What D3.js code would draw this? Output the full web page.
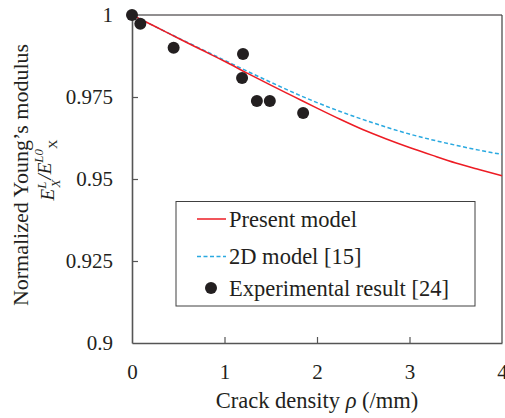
<!DOCTYPE html>
<html>
<head>
<meta charset="utf-8">
<script src="https://d3js.org/d3.v7.min.js"></script>
<style>
  body { margin: 0; background: #fff; }
  svg { font-family: "Liberation Serif", "Times New Roman", serif; }
  text { fill: #231f20; }
</style>
</head>
<body>
<svg id="chart" width="505" height="418"></svg>
<script>
// chart values
var rho = [0, 0.25, 0.5, 0.75, 1, 1.25, 1.5, 1.75, 2, 2.25, 2.5, 2.75, 3, 3.25, 3.5, 3.75, 4];
var presentModel = [1, 0.9965, 0.9929, 0.9894, 0.9859, 0.9822, 0.9786, 0.9751, 0.9716,
                    0.9682, 0.9650, 0.9622, 0.9596, 0.9572, 0.9549, 0.9529, 0.9510];
var model2D = [1, 0.9965, 0.9930, 0.9896, 0.9862, 0.9828, 0.9795, 0.9763, 0.9733,
               0.9706, 0.9681, 0.9658, 0.9637, 0.9619, 0.9603, 0.9588, 0.9575];
var expRho = [0, 0.09, 0.45, 1.2, 1.19, 1.35, 1.49, 1.85];
var expE   = [1, 0.9973, 0.9900, 0.9881, 0.9808, 0.9738, 0.9738, 0.9701];
var xTicks = [0, 1, 2, 3, 4];
var yTicks = [0.9, 0.925, 0.95, 0.975, 1];
var legendNames = ["Present model", "2D model [15]", "Experimental result [24]"];

var svg = d3.select("#chart");
var pLeft = 132, pRight = 502, pTop = 15, pBottom = 343;

var x = d3.scaleLinear().domain([0, 4]).range([pLeft, pRight]);
var y = d3.scaleLinear().domain([0.9, 1]).range([pBottom, pTop]);

// frame (top and right)
svg.append("line").attr("x1", pLeft).attr("x2", pRight).attr("y1", pTop).attr("y2", pTop)
  .attr("stroke", "#231f20").attr("stroke-width", 1);
svg.append("line").attr("x1", pRight).attr("x2", pRight).attr("y1", pTop).attr("y2", pBottom)
  .attr("stroke", "#404040").attr("stroke-width", 1.2);

// axes
var xAxis = d3.axisBottom(x).tickValues(xTicks).tickFormat(d3.format("d"))
  .tickSizeInner(-6).tickSizeOuter(0).tickPadding(20);
var yAxis = d3.axisLeft(y).tickValues(yTicks).tickFormat(function(d) { return d === 1 ? "1" : String(d); })
  .tickSizeInner(-6).tickSizeOuter(0).tickPadding(19);

var gx = svg.append("g").attr("transform", "translate(0," + pBottom + ")").call(xAxis);
var gy = svg.append("g").attr("transform", "translate(" + pLeft + ",0)").call(yAxis);
[gx, gy].forEach(function(g) {
  g.select(".domain").attr("stroke", "#555").attr("stroke-width", 1.6);
  g.selectAll(".tick line").attr("stroke", "#555").attr("stroke-width", 1.2);
  g.selectAll(".tick text").attr("font-family", "Liberation Serif, serif")
    .attr("font-size", 21).attr("fill", "#231f20");
});
gx.selectAll(".tick text").attr("dy", "0.35em").attr("y", 29);
gx.selectAll(".tick").filter(function(d) { return d === 0 || d === 4; }).select("line").remove();
gy.selectAll(".tick").filter(function(d) { return d === 0.9 || d === 1; }).select("line").remove();

// curves
var line = d3.line()
  .x(function(d, i) { return x(rho[i]); })
  .y(function(d) { return y(d); })
  .curve(d3.curveMonotoneX);

svg.append("path").datum(model2D).attr("d", line)
  .attr("fill", "none").attr("stroke", "#2aa9e0").attr("stroke-width", 1.5)
  .attr("stroke-dasharray", "4,2.5");
svg.append("path").datum(presentModel).attr("d", line)
  .attr("fill", "none").attr("stroke", "#ed1c24").attr("stroke-width", 1.5);

// experimental points
svg.selectAll("circle.exp").data(expRho).enter().append("circle")
  .attr("class", "exp")
  .attr("cx", function(d) { return x(d); })
  .attr("cy", function(d, i) { return y(expE[i]); })
  .attr("r", 6).attr("fill", "#231f20");

// legend
var lg = svg.append("g");
lg.append("rect").attr("x", 176).attr("y", 201.5).attr("width", 299).attr("height", 104.5)
  .attr("fill", "#fff").attr("stroke", "#404040").attr("stroke-width", 1);
lg.append("line").attr("x1", 197).attr("x2", 226).attr("y1", 219).attr("y2", 219)
  .attr("stroke", "#ed1c24").attr("stroke-width", 1.5);
lg.append("line").attr("x1", 197).attr("x2", 226).attr("y1", 256.5).attr("y2", 256.5)
  .attr("stroke", "#2aa9e0").attr("stroke-width", 1.5).attr("stroke-dasharray", "4,2.5");
lg.append("circle").attr("cx", 211).attr("cy", 288).attr("r", 6).attr("fill", "#231f20");
[219, 256.5, 288].forEach(function(cy, i) {
  lg.append("text").attr("x", 229).attr("y", cy).attr("dy", "0.35em")
    .attr("font-size", 22.5).text(legendNames[i]);
});

// x title
var xt = svg.append("text").attr("x", 317).attr("y", 400).attr("dy", "0.35em")
  .attr("text-anchor", "middle").attr("font-size", 22.5);
xt.append("tspan").text("Crack density ");
xt.append("tspan").attr("font-style", "italic").text("ρ");
xt.append("tspan").text(" (/mm)");

// y title
svg.append("text").attr("transform", "translate(20,175) rotate(-90)")
  .attr("dy", "0.35em").attr("text-anchor", "middle").attr("font-size", 22)
  .text("Normalized Young\u2019s modulus");

var yt = svg.append("text").attr("transform", "translate(47,170) rotate(-90)")
  .attr("dy", "0.35em").attr("text-anchor", "middle").attr("font-size", 19)
  .attr("font-style", "italic");
yt.append("tspan").text("E");
yt.append("tspan").attr("font-size", 13).attr("dy", "-0.6em").text("L");
yt.append("tspan").attr("font-size", 13).attr("dx", "-0.45em").attr("dy", "1.05em").text("X");
yt.append("tspan").attr("dy", "-0.45em").text("/E");
yt.append("tspan").attr("font-size", 13).attr("dy", "-0.6em").text("L0");
yt.append("tspan").attr("font-size", 13).attr("font-style", "normal").attr("dy", "1.05em").text("X");
</script>
</body>
</html>
